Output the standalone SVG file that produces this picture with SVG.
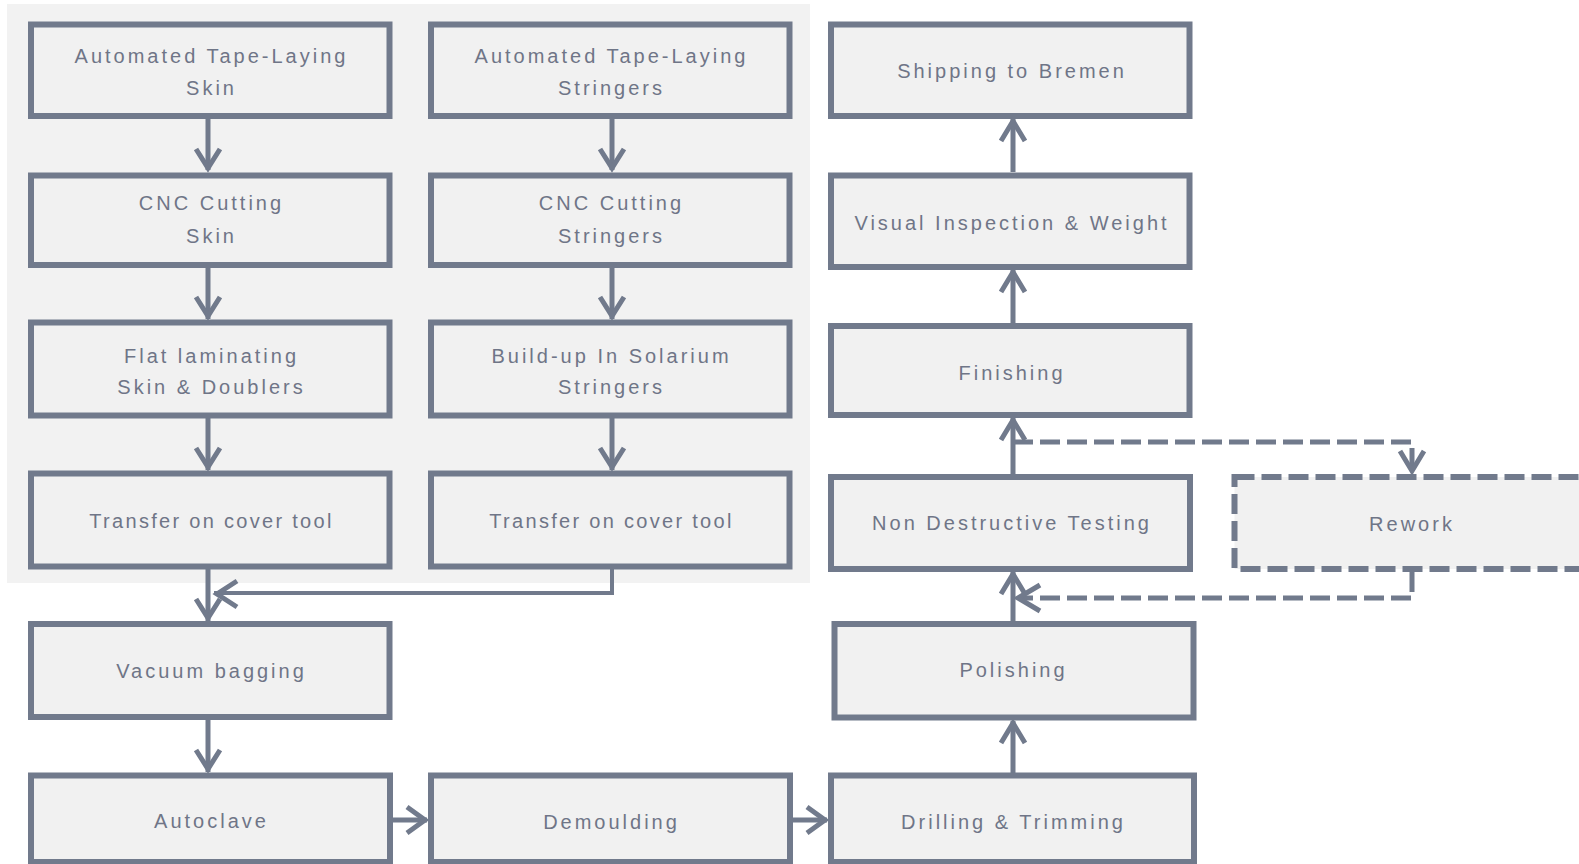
<svg xmlns="http://www.w3.org/2000/svg" width="1579" height="864" viewBox="0 0 1579 864">
<style>
.box{fill:#f1f1f1;stroke:#717a8c;stroke-width:6}
.dbox{fill:#f1f1f1;stroke:#717a8c;stroke-width:6;stroke-dasharray:20 7}
.t{font-family:"Liberation Sans",Arial,sans-serif;font-size:20px;fill:#6f7587;text-anchor:middle;letter-spacing:3px}
.tl{letter-spacing:2.3px}
.c{fill:none;stroke:#717a8c;stroke-width:5}
.d{fill:none;stroke:#717a8c;stroke-width:5;stroke-dasharray:20 7}
.h{fill:none;stroke:#717a8c;stroke-width:5;stroke-linejoin:miter}
</style>
<rect x="0" y="0" width="1579" height="864" fill="#ffffff"/>
<rect id="group-bg" x="7" y="4" width="803" height="579" fill="#f2f2f2"/>

<g id="connectors">
  <path class="c" d="M208 119V170M208 268V319M208 418V470M208 569V621"/>
  <path class="h" d="M196 149L208 168L220 149M196 297L208 316L220 297M196 448L208 467L220 448M196 599L208 618L220 599"/>
  <path class="c" d="M612 119V170M612 268V319M612 418V470"/>
  <path class="h" d="M600 149L612 168L624 149M600 297L612 316L624 297M600 448L612 467L624 448"/>
  <path class="c" d="M612 569V593H214" style="stroke-width:4"/>
  <path class="h" d="M237 581L217 594L237 607"/>
  <path class="c" d="M208 720V772"/>
  <path class="h" d="M196 750L208 769L220 750"/>
  <path class="c" d="M393 820H427M793 820H827"/>
  <path class="h" d="M407 807L425 820L407 833M807 807L825 820L807 833"/>
  <path class="c" d="M1013 773V721M1013 621V572M1013 474V418M1013 323V270M1013 172V119"/>
  <path class="h" d="M1001 743L1013 723L1025 743M1001 594L1013 574L1025 594M1001 440L1013 420L1025 440M1001 292L1013 272L1025 292M1001 141L1013 121L1025 141"/>
  <path class="d" d="M1013 442H1412V471"/>
  <path class="h" d="M1400 451L1412 471L1424 451"/>
  <path class="d" d="M1412 572V598H1018"/>
  <path class="h" d="M1040 585L1018 598L1040 611"/>
</g>

<g id="n-atl-skin"><rect class="box" x="31" y="24.5" width="358.5" height="91.5"/>
<text class="t" x="211.5" y="63">Automated  Tape-Laying</text><text class="t" x="211.5" y="95">Skin</text></g>
<g id="n-cnc-skin"><rect class="box" x="31" y="175.5" width="358.5" height="89.5"/>
<text class="t" x="211.5" y="210">CNC  Cutting</text><text class="t" x="211.5" y="243">Skin</text></g>
<g id="n-flat"><rect class="box" x="31" y="322.5" width="358.5" height="93"/>
<text class="t" x="211.5" y="363">Flat laminating</text><text class="t" x="211.5" y="394">Skin &amp; Doublers</text></g>
<g id="n-transfer1"><rect class="box" x="31" y="473.5" width="358.5" height="93"/>
<text class="t tl" x="211.5" y="528">Transfer on cover tool</text></g>

<g id="n-atl-str"><rect class="box" x="431" y="24.5" width="358.5" height="91.5"/>
<text class="t" x="611.5" y="63">Automated  Tape-Laying</text><text class="t" x="611.5" y="95">Stringers</text></g>
<g id="n-cnc-str"><rect class="box" x="431" y="175.5" width="358.5" height="89.5"/>
<text class="t" x="611.5" y="210">CNC  Cutting</text><text class="t" x="611.5" y="243">Stringers</text></g>
<g id="n-buildup"><rect class="box" x="431" y="322.5" width="358.5" height="93"/>
<text class="t" x="611.5" y="363">Build-up  In  Solarium</text><text class="t" x="611.5" y="394">Stringers</text></g>
<g id="n-transfer2"><rect class="box" x="431" y="473.5" width="358.5" height="93"/>
<text class="t tl" x="611.5" y="528">Transfer on cover tool</text></g>

<g id="n-vacuum"><rect class="box" x="31" y="624" width="358.5" height="93"/>
<text class="t" x="211.5" y="678">Vacuum  bagging</text></g>
<g id="n-autoclave"><rect class="box" x="31" y="775.5" width="359" height="86.5"/>
<text class="t" x="211.5" y="828">Autoclave</text></g>
<g id="n-demoulding"><rect class="box" x="431" y="775.5" width="359" height="86.5"/>
<text class="t" x="611.5" y="829">Demoulding</text></g>
<g id="n-drilling"><rect class="box" x="831" y="775.5" width="363" height="86.5"/>
<text class="t" x="1013.5" y="829">Drilling  &amp;  Trimming</text></g>
<g id="n-polishing"><rect class="box" x="834.5" y="624" width="359" height="93.5"/>
<text class="t" x="1013.5" y="677">Polishing</text></g>
<g id="n-ndt"><rect class="box" x="831" y="477" width="359" height="92"/>
<text class="t" x="1012" y="530">Non  Destructive  Testing</text></g>
<g id="n-finishing"><rect class="box" x="831" y="326" width="358.5" height="89"/>
<text class="t" x="1012" y="380">Finishing</text></g>
<g id="n-visual"><rect class="box" x="831" y="175.5" width="358.5" height="91.5"/>
<text class="t" x="1012" y="230">Visual  Inspection  &amp;  Weight</text></g>
<g id="n-shipping"><rect class="box" x="831" y="24.5" width="358.5" height="91.5"/>
<text class="t" x="1012" y="78">Shipping  to  Bremen</text></g>
<g id="n-rework"><rect class="dbox" x="1234.5" y="477" width="358.5" height="92"/>
<text class="t" x="1412" y="531">Rework</text></g>
</svg>
